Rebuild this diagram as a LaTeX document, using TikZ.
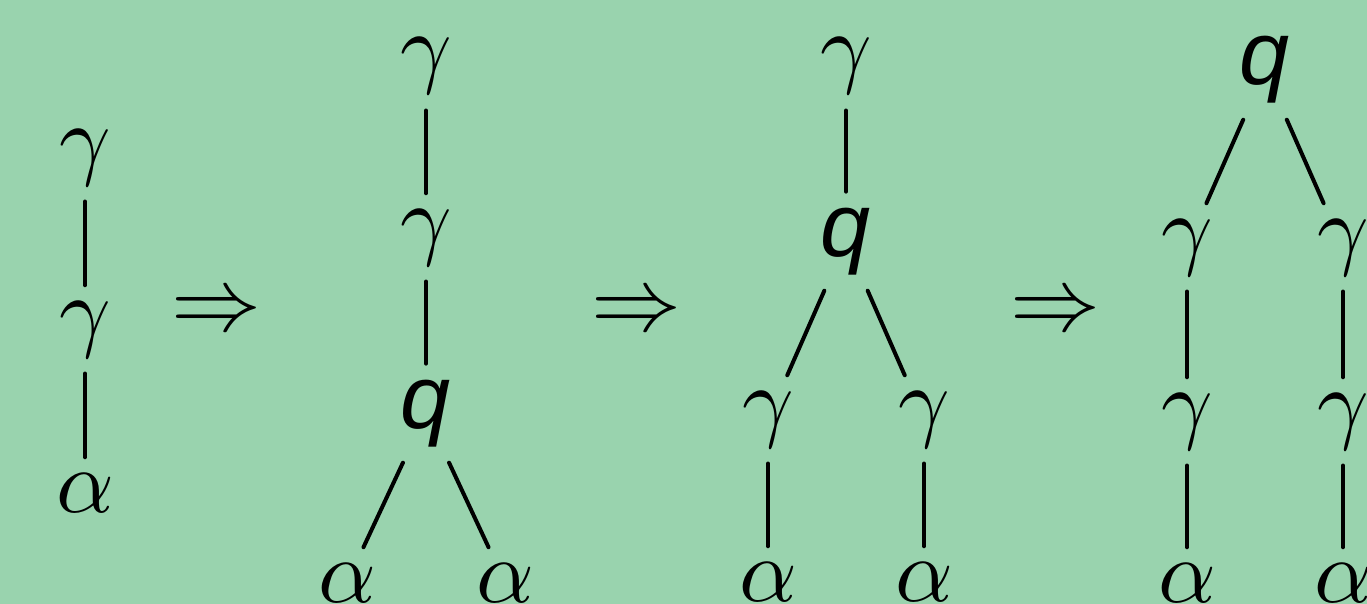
\documentclass[tikz,border=0pt]{standalone}
\usepackage{fontspec}
\newfontfamily\qfont{Liberation Sans}
\definecolor{bg}{RGB}{153,211,174}
\tikzset{
  lab/.style={anchor=base, inner sep=16pt, outer sep=0pt},
  arr/.style={inner sep=0pt},
  edge/.style={line width=4pt, line cap=round},
}
\newcommand{\qsym}{\scalebox{9}{\qfont\itshape q}}
\newcommand{\gsym}{\scalebox{9}{$\gamma$}}
\newcommand{\asym}{\scalebox{9}{$\alpha$}}
\newcommand{\rsym}{\scalebox{9}{$\Rightarrow$}}
\begin{document}
\begin{tikzpicture}[x=1pt,y=-1pt]
\fill[bg] (0,0) rectangle (1367,604);
\useasboundingbox (0,0) rectangle (1367,604);
% tree 1
\node[lab] (t1g1) at (85,168) {\gsym};
\node[lab] (t1g2) at (85,340) {\gsym};
\node[lab] (t1a)  at (85,512) {\asym};
\draw[edge] (t1g1) -- (t1g2);
\draw[edge] (t1g2) -- (t1a);
\node[arr] (r1) at (216,314) {\rsym};
% tree 2
\node[lab] (t2g1) at (426,77) {\gsym};
\node[lab] (t2g2) at (426,248) {\gsym};
\node[lab] (t2q)  at (426,428) {\qsym};
\node[lab] (t2a1) at (347,602) {\asym};
\node[lab] (t2a2) at (505,602) {\asym};
\draw[edge] (t2g1) -- (t2g2);
\draw[edge] (t2g2) -- (t2q);
\draw[edge] (t2q) -- (t2a1);
\draw[edge] (t2q) -- (t2a2);
\node[arr] (r2) at (636,314) {\rsym};
% tree 3
\node[lab] (t3g1) at (846,77) {\gsym};
\node[lab] (t3q)  at (846,256) {\qsym};
\node[lab] (t3g2) at (768,430) {\gsym};
\node[lab] (t3g3) at (924,430) {\gsym};
\node[lab] (t3a1) at (768,601) {\asym};
\node[lab] (t3a2) at (924,601) {\asym};
\draw[edge] (t3g1) -- (t3q);
\draw[edge] (t3q) -- (t3g2);
\draw[edge] (t3q) -- (t3g3);
\draw[edge] (t3g2) -- (t3a1);
\draw[edge] (t3g3) -- (t3a2);
\node[arr] (r3) at (1055,314) {\rsym};
% tree 4
\node[lab] (t4q)  at (1265,85) {\qsym};
\node[lab] (t4g1) at (1187,258) {\gsym};
\node[lab] (t4g2) at (1343,258) {\gsym};
\node[lab] (t4g3) at (1187,432) {\gsym};
\node[lab] (t4g4) at (1343,432) {\gsym};
\node[lab] (t4a1) at (1187,602) {\asym};
\node[lab] (t4a2) at (1343,602) {\asym};
\draw[edge] (t4q) -- (t4g1);
\draw[edge] (t4q) -- (t4g2);
\draw[edge] (t4g1) -- (t4g3);
\draw[edge] (t4g2) -- (t4g4);
\draw[edge] (t4g3) -- (t4a1);
\draw[edge] (t4g4) -- (t4a2);
\end{tikzpicture}
\end{document}
